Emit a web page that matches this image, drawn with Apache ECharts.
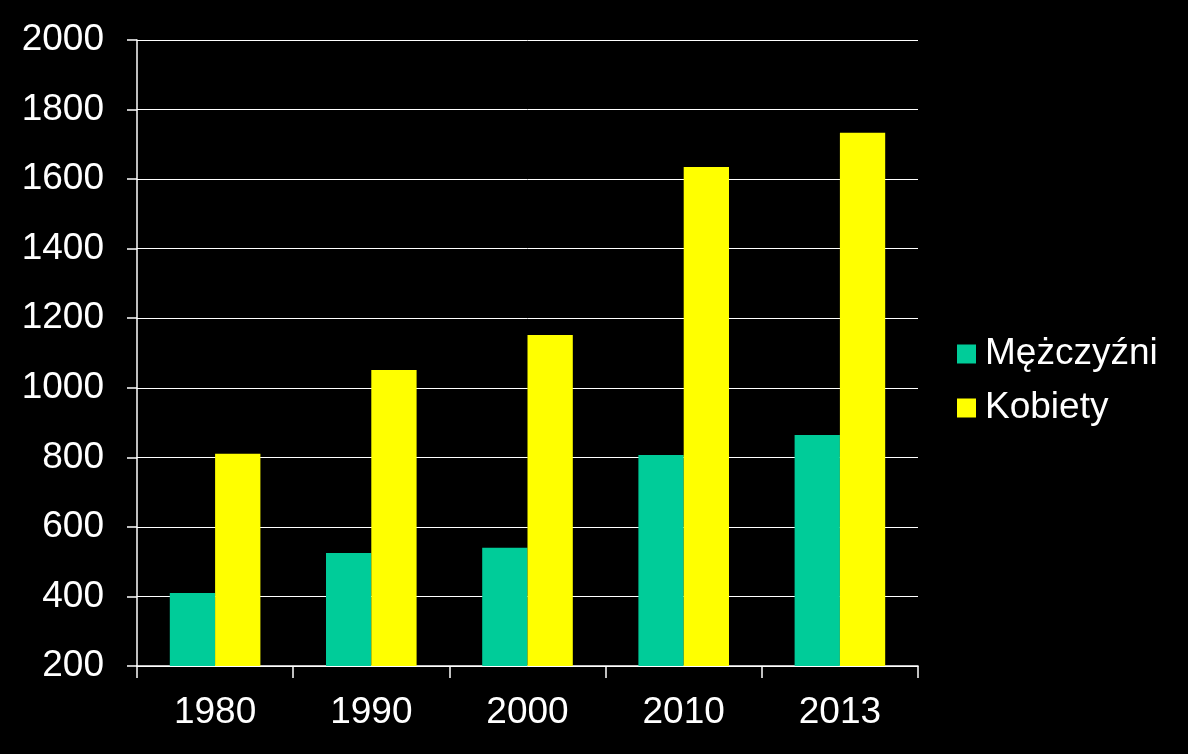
<!DOCTYPE html>
<html>
<head>
<meta charset="utf-8">
<script src="https://cdn.jsdelivr.net/npm/echarts@6/dist/echarts.min.js"></script>
<style>
html, body { margin: 0; padding: 0; background: #000; }
#chart { width: 1188px; height: 754px; }
</style>
</head>
<body>
<div id="chart"></div>
<script>
var years = ['1980', '1990', '2000', '2010', '2013'];
var mezczyzni = [410, 525, 540, 807, 864];
var kobiety = [810, 1051, 1152, 1635, 1733];

var chart = echarts.init(document.getElementById('chart'));

var option = {
    backgroundColor: '#000000',
    animation: false,
    grid: {
        left: 137,
        right: 270,
        top: 40,
        bottom: 88
    },
    legend: {
        orient: 'vertical',
        left: 957,
        top: 333,
        padding: 0,
        itemWidth: 19,
        itemHeight: 19,
        itemGap: 12,
        icon: 'rect',
        textStyle: {
            color: '#ffffff',
            fontFamily: 'Liberation Sans',
            fontSize: 37,
            lineHeight: 42,
            padding: [0, 0, 0, 4]
        },
        data: ['Mężczyźni', 'Kobiety']
    },
    xAxis: {
        type: 'category',
        data: years,
        axisLine: { lineStyle: { color: '#ffffff', width: 1.5 } },
        axisTick: { show: true, length: 12, lineStyle: { color: '#ffffff', width: 1.5 } },
        axisLabel: {
            color: '#ffffff',
            fontFamily: 'Liberation Sans',
            fontSize: 37,
            margin: 28
        }
    },
    yAxis: {
        type: 'value',
        min: 200,
        max: 2000,
        interval: 200,
        axisLine: { show: true, lineStyle: { color: '#ffffff', width: 1.5 } },
        axisTick: { show: true, length: 10, lineStyle: { color: '#ffffff', width: 1.5 } },
        splitLine: { lineStyle: { color: '#ffffff', width: 1 } },
        axisLabel: {
            color: '#ffffff',
            fontFamily: 'Liberation Sans',
            fontSize: 37,
            margin: 33,
            formatter: function (v) { return String(v); }
        }
    },
    series: [
        {
            name: 'Mężczyźni',
            type: 'bar',
            data: mezczyzni,
            barGap: '0%',
            barCategoryGap: '42%',
            itemStyle: { color: '#00CC99' }
        },
        {
            name: 'Kobiety',
            type: 'bar',
            data: kobiety,
            itemStyle: { color: '#FFFF00' }
        }
    ]
};

chart.setOption(option);
</script>
</body>
</html>
